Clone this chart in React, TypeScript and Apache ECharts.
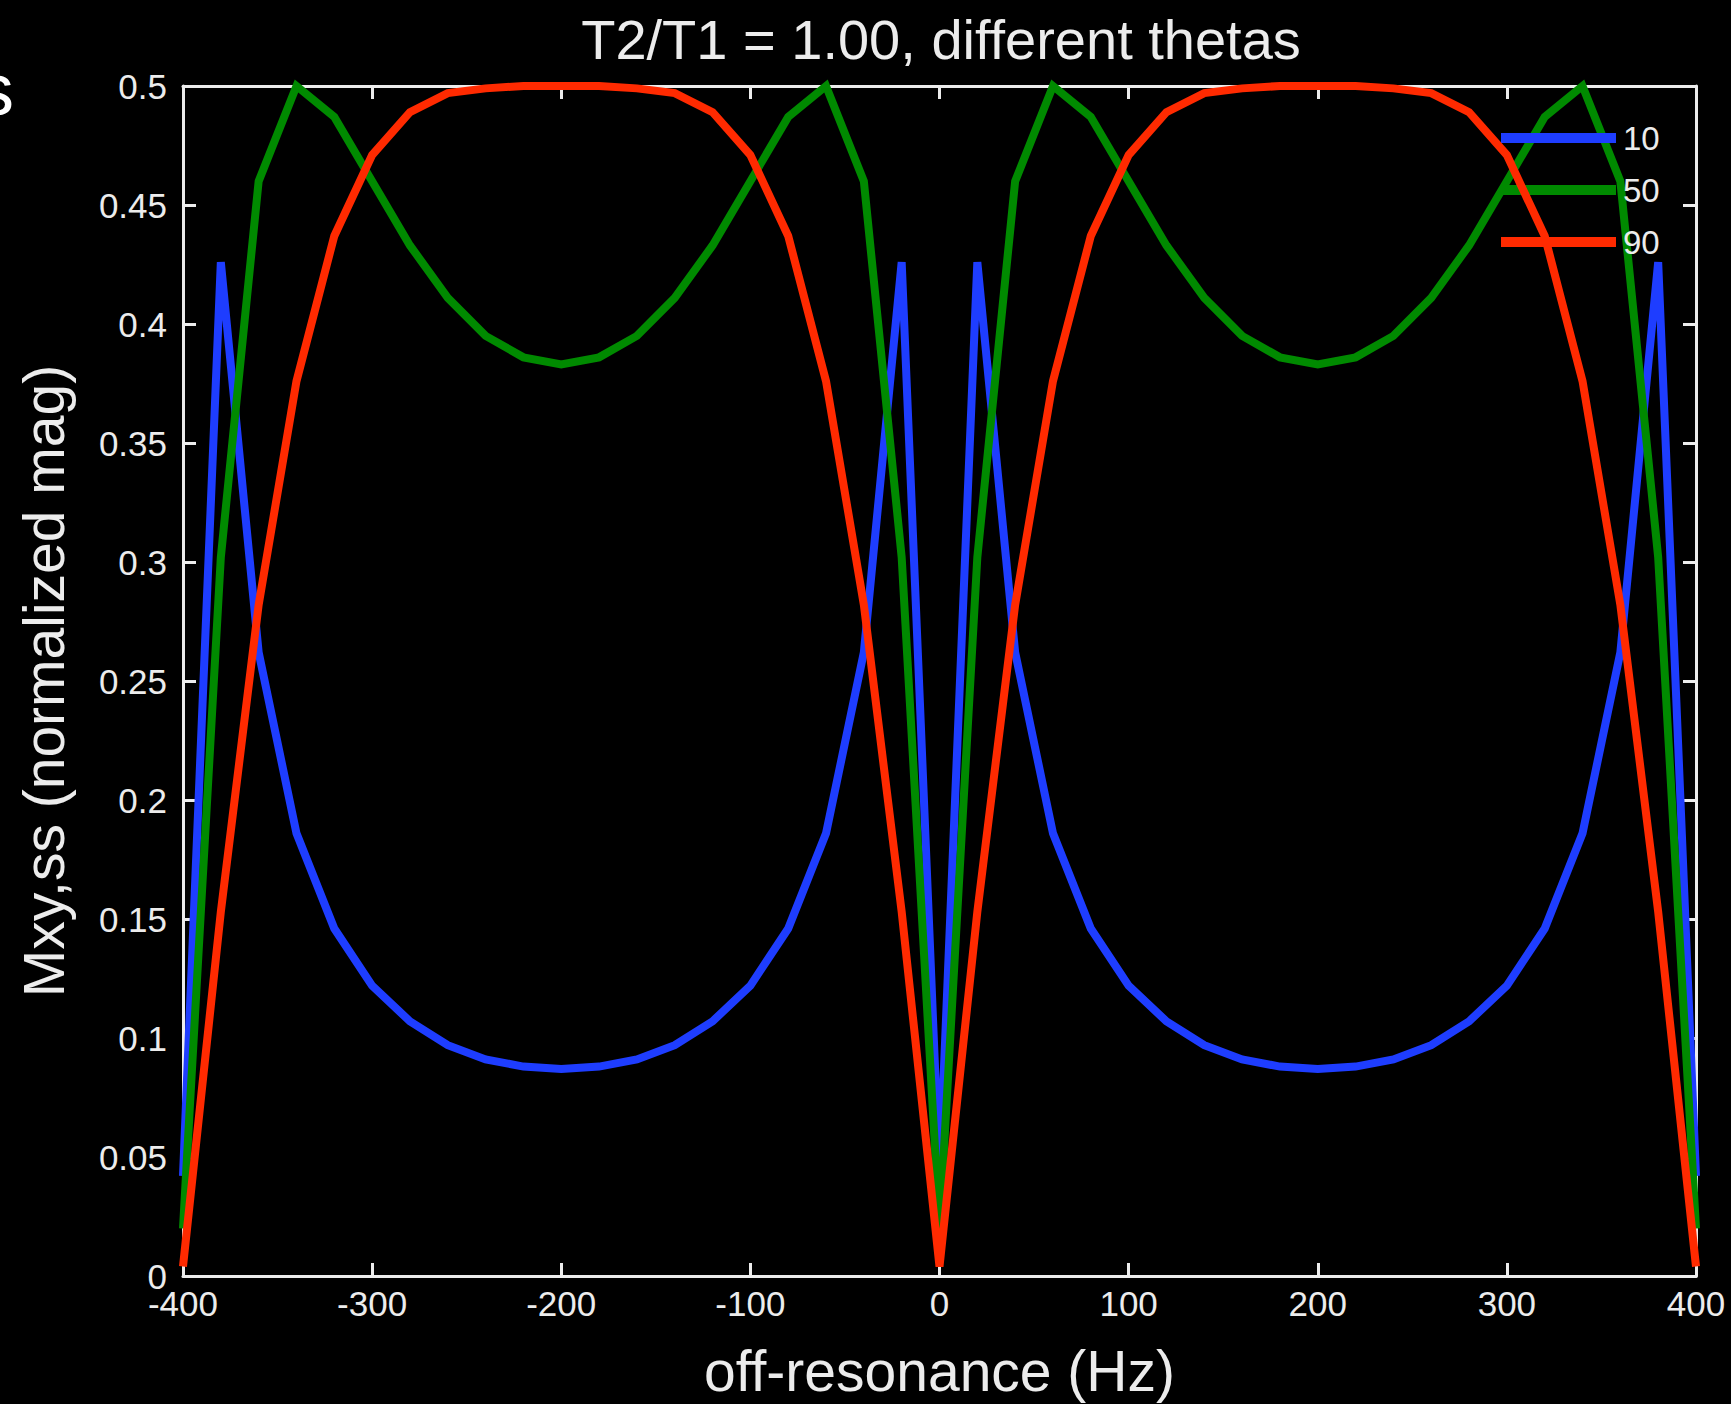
import React, { useEffect, useRef } from "react";
import * as echarts from "echarts";

const offResonanceHz = [
  -400, -380, -360, -340, -320, -300, -280, -260, -240, -220, -200,
  -180, -160, -140, -120, -100, -80, -60, -40, -20, 0,
  20, 40, 60, 80, 100, 120, 140, 160, 180, 200,
  220, 240, 260, 280, 300, 320, 340, 360, 380, 400,
];

const mxyTheta10 = [
  0.042, 0.426, 0.262, 0.186, 0.146, 0.122, 0.107, 0.097, 0.091, 0.088, 0.087,
  0.088, 0.091, 0.097, 0.107, 0.122, 0.146, 0.186, 0.262, 0.426, 0.042,
  0.426, 0.262, 0.186, 0.146, 0.122, 0.107, 0.097, 0.091, 0.088, 0.087,
  0.088, 0.091, 0.097, 0.107, 0.122, 0.146, 0.186, 0.262, 0.426, 0.042,
];

const mxyTheta50 = [
  0.020, 0.302, 0.460, 0.500, 0.487, 0.460, 0.433, 0.411, 0.395, 0.386, 0.383,
  0.386, 0.395, 0.411, 0.433, 0.460, 0.487, 0.500, 0.460, 0.302, 0.020,
  0.302, 0.460, 0.500, 0.487, 0.460, 0.433, 0.411, 0.395, 0.386, 0.383,
  0.386, 0.395, 0.411, 0.433, 0.460, 0.487, 0.500, 0.460, 0.302, 0.020,
];

const mxyTheta90 = [
  0.004, 0.153, 0.282, 0.376, 0.437, 0.471, 0.489, 0.497, 0.499, 0.500, 0.500,
  0.500, 0.499, 0.497, 0.489, 0.471, 0.437, 0.376, 0.282, 0.153, 0.004,
  0.153, 0.282, 0.376, 0.437, 0.471, 0.489, 0.497, 0.499, 0.500, 0.500,
  0.500, 0.499, 0.497, 0.489, 0.471, 0.437, 0.376, 0.282, 0.153, 0.004,
];

const seriesNames = ["10", "50", "90"];
const seriesColors = ["#1e3dff", "#008a00", "#ff2a00"];

const titleText = "T2/T1 = 1.00, different thetas";
const xAxisName = "off-resonance (Hz)";
const yAxisName = "Mxy,ss (normalized mag)";

const FONT = "'Liberation Sans', Arial, Helvetica, sans-serif";
const FG = "#ececec";

export default function App() {
  const ref = useRef<HTMLDivElement>(null);

  useEffect(() => {
    if (!ref.current) return;
    const chart = echarts.init(ref.current, undefined, { renderer: "svg" });

    const pairs = (ys: number[]) => offResonanceHz.map((x, i) => [x, ys[i]]);
    const allValues = [mxyTheta10, mxyTheta50, mxyTheta90];

    const axisLineStyle = { color: FG, width: 3 };
    const tickStyle = { show: true, inside: true, length: 13, lineStyle: { color: FG, width: 3 } };

    chart.setOption({
      animation: false,
      backgroundColor: "#000000",
      title: {
        text: titleText,
        left: 936,
        top: 6,
        textAlign: "center",
        textStyle: { color: FG, fontSize: 56, fontWeight: "normal", fontFamily: FONT },
      },
      graphic: [
        {
          type: "text",
          left: -23,
          top: 52,
          style: { text: "s", fill: "#ffffff", fontSize: 74, fontFamily: FONT },
        },
      ],
      legend: {
        orient: "vertical",
        left: 1496,
        top: 113,
        icon: "rect",
        itemWidth: 115,
        itemHeight: 10,
        itemGap: 12,
        data: seriesNames,
        textStyle: {
          color: FG,
          fontSize: 33,
          fontFamily: FONT,
          lineHeight: 40,
          padding: [0, 0, 0, 2],
        },
      },
      grid: { left: 183, right: 35, top: 86, bottom: 126, containLabel: false },
      xAxis: [
        {
          type: "value",
          min: -400,
          max: 400,
          interval: 100,
          name: xAxisName,
          nameLocation: "middle",
          nameGap: 66,
          nameTextStyle: { color: FG, fontSize: 57, fontFamily: FONT },
          axisLine: { show: true, onZero: false, lineStyle: axisLineStyle },
          axisTick: tickStyle,
          axisLabel: { color: FG, fontSize: 35, fontFamily: FONT, margin: 10 },
          splitLine: { show: false },
        },
        {
          type: "value",
          position: "top",
          min: -400,
          max: 400,
          interval: 100,
          axisLine: { show: true, onZero: false, lineStyle: axisLineStyle },
          axisTick: tickStyle,
          axisLabel: { show: false },
          splitLine: { show: false },
        },
      ],
      yAxis: [
        {
          type: "value",
          min: 0,
          max: 0.5,
          interval: 0.05,
          name: yAxisName,
          nameLocation: "middle",
          nameGap: 111,
          nameRotate: 90,
          nameTextStyle: { color: FG, fontSize: 57, fontFamily: FONT },
          axisLine: { show: true, onZero: false, lineStyle: axisLineStyle },
          axisTick: tickStyle,
          axisLabel: {
            color: FG,
            fontSize: 35,
            fontFamily: FONT,
            margin: 16,
            formatter: (v: number) => String(parseFloat(v.toFixed(2))),
          },
          splitLine: { show: false },
        },
        {
          type: "value",
          position: "right",
          min: 0,
          max: 0.5,
          interval: 0.05,
          axisLine: { show: true, onZero: false, lineStyle: axisLineStyle },
          axisTick: tickStyle,
          axisLabel: { show: false },
          splitLine: { show: false },
        },
      ],
      series: seriesNames.map((name, i) => ({
        name,
        type: "line",
        xAxisIndex: 0,
        yAxisIndex: 0,
        data: pairs(allValues[i]),
        showSymbol: false,
        symbol: "none",
        smooth: false,
        clip: false,
        color: seriesColors[i],
        lineStyle: { color: seriesColors[i], width: 8, cap: "butt", join: "miter" },
        z: 2 + i,
      })),
    });

    return () => chart.dispose();
  }, []);

  return (
    <div
      ref={ref}
      style={{ position: "fixed", left: 0, top: 0, width: 1731, height: 1404, background: "#000" }}
    />
  );
}
